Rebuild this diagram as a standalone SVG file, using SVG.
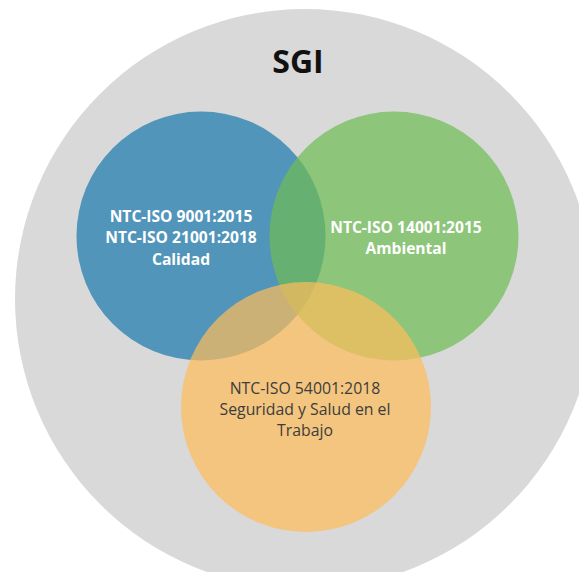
<svg xmlns="http://www.w3.org/2000/svg" width="579" height="572" viewBox="0 0 579 572">
<style>
.t{font-family:"Open Sans","Liberation Sans",sans-serif;text-anchor:middle}
.w{fill:#ffffff;font-weight:bold;font-size:15.6px}
.d{fill:#3d3d3d;font-size:15.8px}
.c{fill-opacity:0.72}
</style>
<rect width="579" height="572" fill="#ffffff"/>
<g id="sgi">
<circle cx="305" cy="299" r="290" fill="#d9d9d9"/>
<text class="t" x="298" y="73" font-size="32" font-weight="bold" fill="#111111">SGI</text>
</g>
<g id="calidad">
<circle class="c" cx="201" cy="236" r="124.5" fill="#1c7aad"/>
</g>
<g id="ambiental">
<circle class="c" cx="394" cy="236" r="124.5" fill="#6fbc55"/>
</g>
<g id="sst">
<circle class="c" cx="306" cy="407" r="125" fill="#fcbd5c"/>
</g>
<g id="labels">
<text class="t w" x="181" y="221.5">NTC-ISO 9001:2015</text>
<text class="t w" x="181" y="243.3">NTC-ISO 21001:2018</text>
<text class="t w" x="181" y="265">Calidad</text>
<text class="t w" x="406" y="232.7">NTC-ISO 14001:2015</text>
<text class="t w" x="406" y="254">Ambiental</text>
<text class="t d" x="305" y="394.3">NTC-ISO 54001:2018</text>
<text class="t d" x="305" y="415">Seguridad y Salud en el</text>
<text class="t d" x="305" y="436">Trabajo</text>
</g>
</svg>
